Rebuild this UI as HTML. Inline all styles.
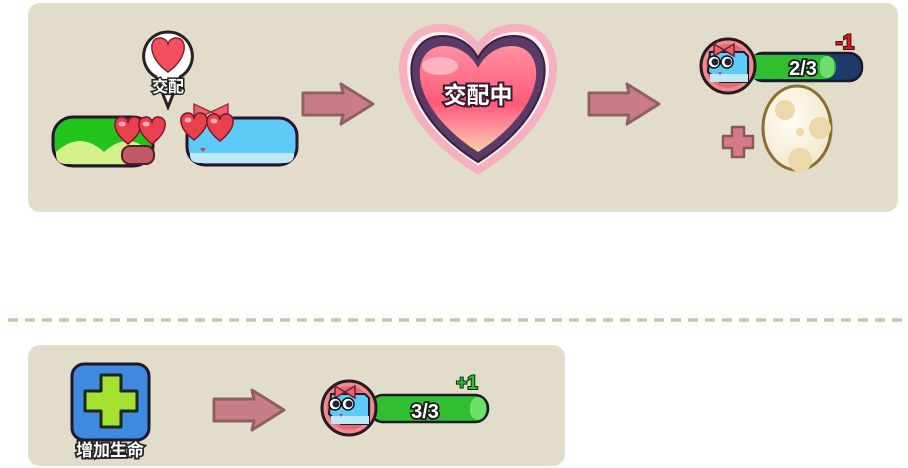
<!DOCTYPE html>
<html><head><meta charset="utf-8"><style>
html,body{margin:0;padding:0;background:#fff;}
svg{display:block}
text{font-family:"Liberation Sans","Noto Sans CJK SC",sans-serif;font-weight:bold;}
</style></head><body>
<svg width="908" height="468" viewBox="0 0 908 468" xmlns="http://www.w3.org/2000/svg">
<defs>
<linearGradient id="hg" x1="0" y1="0" x2="0" y2="1">
<stop offset="0" stop-color="#ff8fa0"/><stop offset="0.55" stop-color="#ff5a78"/><stop offset="0.8" stop-color="#ff9aa0"/><stop offset="1" stop-color="#ffd0a0"/></linearGradient>
<radialGradient id="eg" cx="0.4" cy="0.4" r="0.7"><stop offset="0" stop-color="#fffdf5"/><stop offset="1" stop-color="#f0e6c8"/></radialGradient>
<g id="heart"><path d="M0,10 C-18,-4 -15,-17 -6,-17 C-2,-17 0,-14 0,-11 C0,-14 2,-17 6,-17 C15,-17 18,-4 0,10Z" fill="#e8404c" stroke="#7a1a2a" stroke-width="1.5"/><ellipse cx="-6" cy="-10" rx="3.5" ry="2.5" fill="#ffb0b8"/></g>
<g id="arrow"><path d="M0,-11 L40,-11 L38,-20 L70,0 L38,20 L40,11 L0,11Z" fill="#c97d88" stroke="#8f6060" stroke-width="3" stroke-linejoin="round"/></g>
<g id="avatar">
<circle r="27" fill="#f08a90" stroke="#2a1a20" stroke-width="3"/>
<circle r="22" fill="#e36a74"/>
<path d="M-18,-14 L16,-14 L20,-10 L20,16 L-8,16 L-20,6Z" fill="#5ccbf8" stroke="#1a1a2a" stroke-width="2"/>
<rect x="-18" y="8" width="38" height="8" fill="#bfe8f6"/>
<path d="M-14,-22 L-4,-16 L-14,-10Z M6,-22 L-4,-16 L6,-10Z" fill="#f0606a" stroke="#6a2030" stroke-width="1.5"/>
<circle cx="-14" cy="-4" r="6" fill="#fff" stroke="#111" stroke-width="1.5"/><circle cx="-13" cy="-4" r="3.5" fill="#223"/>
<circle cx="-1" cy="-4" r="6" fill="#fff" stroke="#111" stroke-width="1.5"/><circle cx="0" cy="-4" r="3.5" fill="#223"/>
<path d="M-10,6 L-6,6 L-8,9Z" fill="#d04050"/>
</g>
</defs>

<rect x="28" y="3" width="870" height="209" rx="12" fill="#e2dccb"/>
<rect x="28" y="345" width="537" height="121" rx="12" fill="#e2dccb"/>
<line x1="8" y1="320" x2="905" y2="320" stroke="#d6bfa2" stroke-width="3.5" stroke-dasharray="10,7"/>

<!-- bubble -->
<path d="M168,32 a24,24 0 0 1 12,45 L168,107 L156,77 a24,24 0 0 1 12,-45Z" fill="#fff" stroke="#2a2020" stroke-width="3"/>
<path d="M168,72 C148,58 148,38 160,38 C164,38 168,41 168,45 C168,41 172,38 176,38 C188,38 188,58 168,72Z" fill="#f25060" stroke="#8a2030" stroke-width="1.5"/>
<text x="168" y="92" text-anchor="middle" font-size="16" fill="#fff" stroke="#222" stroke-width="3" paint-order="stroke">交配</text>

<!-- green bar -->
<rect x="53" y="117" width="100" height="49" rx="20" fill="#22c41c" stroke="#2a1230" stroke-width="3"/>
<path d="M56,152 Q80,130 104,152 Q128,130 150,152 L150,154 Q150,164 140,164 L66,164 Q56,164 56,154Z" fill="#d4f08a"/>
<rect x="122" y="146" width="32" height="18" rx="8" fill="#c05a66" stroke="#5a1a2a" stroke-width="2"/>
<use href="#heart" x="128" y="134"/><use href="#heart" x="152" y="134"/>

<!-- blue bar -->
<rect x="187" y="118" width="110" height="47" rx="18" fill="#5ccbf8" stroke="#2a1230" stroke-width="3"/>
<path d="M190,153 L294,153 L294,155 Q294,163 284,163 L200,163 Q190,163 190,155Z" fill="#bfe8f6"/>
<path d="M194,104 L211,112 L194,120Z M228,104 L211,112 L228,120Z" fill="#f0606a" stroke="#a03040" stroke-width="1.5"/>
<use href="#heart" x="194" y="130"/><use href="#heart" x="220" y="131"/>
<path d="M200,148 L206,148 L203,152Z" fill="#d04050"/>

<use href="#arrow" x="303" y="104"/>
<use href="#arrow" x="589" y="104"/>
<use href="#arrow" x="214" y="410"/>

<!-- big heart -->
<path d="M478,170 C380,110 390,28 440,28 C460,28 472,38 478,50 C484,38 496,28 516,28 C566,28 576,110 478,170Z" fill="#fff0f2" stroke="#f7b0c0" stroke-width="8"/>
<path d="M478,162 C392,108 400,36 442,36 C460,36 472,46 478,58 C484,46 496,36 514,36 C556,36 564,108 478,162Z" fill="#5a3a66" stroke="#3a2040" stroke-width="2"/>
<path d="M478,152 C404,104 410,46 444,46 C460,46 472,56 478,68 C484,56 496,46 512,46 C546,46 552,104 478,152Z" fill="url(#hg)"/>
<ellipse cx="440" cy="66" rx="18" ry="9" fill="#ffc0cc" opacity="0.8"/>
<text x="478" y="103" text-anchor="middle" font-size="23" fill="#fff" stroke="#3a1a30" stroke-width="4" paint-order="stroke">交配中</text>

<!-- top right avatar bar -->
<rect x="750" y="53" width="112" height="28" rx="13" fill="#1d3a6b" stroke="#1a1a2a" stroke-width="2.5"/>
<path d="M752,55 L822,55 Q836,55 836,67 Q836,79 822,79 L752,79Z" fill="#2fbf30"/>
<rect x="820" y="56" width="14" height="22" rx="8" fill="#6ee06a"/>
<use href="#avatar" x="728" y="66"/>
<text x="803" y="75" text-anchor="middle" font-size="20" fill="#fff" stroke="#1a1a1a" stroke-width="3.5" paint-order="stroke">2/3</text>
<text x="845" y="49" text-anchor="middle" font-size="21" fill="#e01a1a" stroke="#3a1010" stroke-width="2" paint-order="stroke">-1</text>

<path d="M732,127 h12 v9 h9 v12 h-9 v9 h-12 v-9 h-9 v-12 h9Z" fill="#d47a88" stroke="#8a5a5a" stroke-width="2.5" stroke-linejoin="round"/>
<ellipse cx="797" cy="128" rx="34" ry="42" fill="url(#eg)" stroke="#8a7030" stroke-width="3"/>
<circle cx="785" cy="110" r="10" fill="#ecd8a8"/><circle cx="820" cy="128" r="11" fill="#ecd8a8"/><circle cx="800" cy="160" r="12" fill="#ecd8a8"/><circle cx="800" cy="132" r="4" fill="#ecd8a8"/>

<!-- bottom panel -->
<rect x="72" y="364" width="77" height="76" rx="12" fill="#3f8ae0" stroke="#1a1a2a" stroke-width="3"/>
<path d="M101,375 h20 v16 h16 v20 h-16 v16 h-20 v-16 h-16 v-20 h16Z" fill="#a6e030" stroke="#1a2a10" stroke-width="3" stroke-linejoin="round"/>
<text x="110" y="456" text-anchor="middle" font-size="17" fill="#fff" stroke="#222" stroke-width="3.5" paint-order="stroke">增加生命</text>

<rect x="370" y="395" width="118" height="27" rx="13" fill="#2fbf30" stroke="#1a1a2a" stroke-width="2.5"/>
<rect x="470" y="397" width="16" height="23" rx="10" fill="#6ee06a"/>
<use href="#avatar" x="349" y="408"/>
<text x="425" y="418" text-anchor="middle" font-size="20" fill="#fff" stroke="#1a1a1a" stroke-width="3.5" paint-order="stroke">3/3</text>
<text x="467" y="389" text-anchor="middle" font-size="19" fill="#2fbf30" stroke="#102a10" stroke-width="2" paint-order="stroke">+1</text>
</svg>
</body></html>
